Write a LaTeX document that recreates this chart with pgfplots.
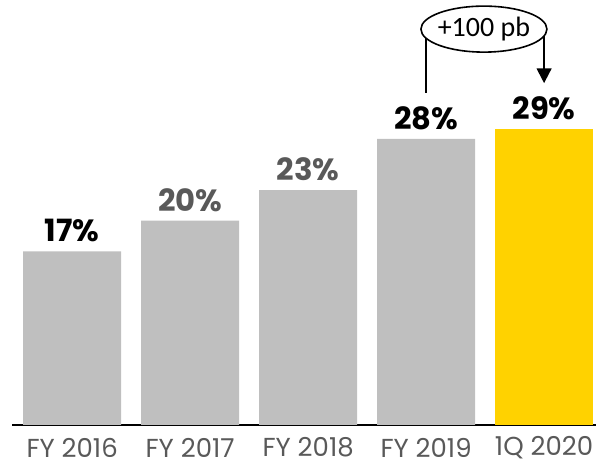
\documentclass[border=0pt]{standalone}
\usepackage{pgfplots}
\pgfplotsset{compat=1.18}
\usetikzlibrary{arrows.meta}
\usepackage{fontspec}
\setmainfont{Poppins}
\newfontfamily\calib{Carlito}
\definecolor{barGray}{HTML}{BFBFBF}
\definecolor{barYellow}{HTML}{FFD200}
\definecolor{txtGray}{HTML}{595959}

\begin{document}
\begin{tikzpicture}
\path[use as bounding box] (-9pt,-30.75pt) rectangle (438pt,318.75pt);
\begin{axis}[
  scale only axis, width=438pt, height=318.75pt,
  anchor=south west, at={(0,0)},
  ybar, bar width=73.5pt,
  xmin=-0.51, xmax=4.44, ymin=0, ymax=41.6,
  axis x line*=bottom, axis y line=none,
  x axis line style={line width=1.5pt,-},
  xtick={0,1,2,3,4},
  xticklabels={FY 2016, FY 2017, FY 2018, FY 2019, 1Q 2020},
  major tick length=0pt,
  x tick label style={font=\fontsize{19.5}{22}\selectfont, text=txtGray, anchor=center, yshift=-17pt},
  ytick=\empty,
  clip=false,
  nodes near coords, point meta=explicit symbolic,
  every node near coord/.append style={font=\bfseries\fontsize{23}{27}\selectfont, anchor=center, yshift=15.5pt},
]
\addplot[fill=barGray, draw=none, bar shift=0pt,
  every node near coord/.append style={text=black}]
  coordinates {(0,17) [17\%] (3,28) [28\%]};
\addplot[fill=barGray, draw=none, bar shift=0pt,
  every node near coord/.append style={text=txtGray}]
  coordinates {(1,20) [20\%] (2,23) [23\%]};
\addplot[fill=barYellow, draw=none, bar shift=0pt,
  every node near coord/.append style={text=black}]
  coordinates {(4,29) [29\%]};

% +100 pb callout
\draw[line width=1.4pt] (axis cs:3,32.5) -- (axis cs:3,38.75);
\draw[line width=1.4pt, -{Triangle[width=11pt,length=11pt]}] (axis cs:4,38.75) -- (axis cs:4,33.46);
\draw[fill=white, line width=1.2pt] (axis cs:3.49,38.75) ellipse [x radius=47.25pt, y radius=17.25pt];
\node[font=\calib\fontsize{21}{24}\selectfont] at (axis cs:3.49,38.75) {+100 pb};
\end{axis}
\end{tikzpicture}
\end{document}
